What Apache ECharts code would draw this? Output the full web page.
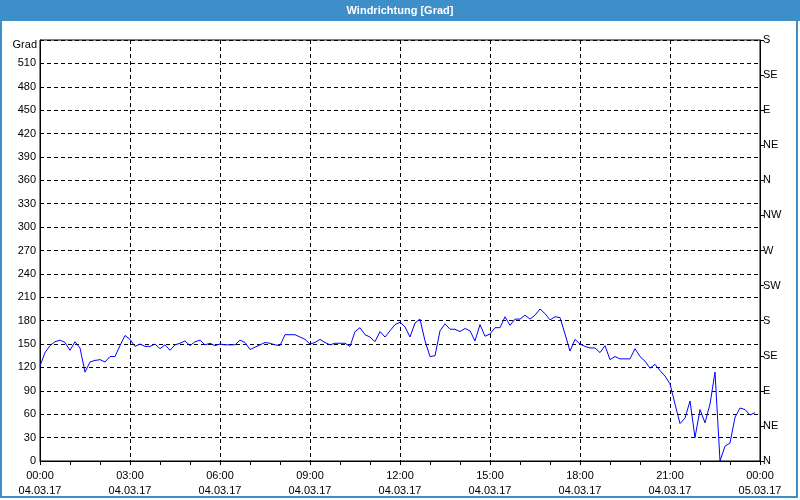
<!DOCTYPE html>
<html>
<head>
<meta charset="utf-8">
<script src="https://cdn.jsdelivr.net/npm/echarts@6/dist/echarts.min.js"></script>
<style>html,body{margin:0;padding:0;background:#fff}#c{width:800px;height:500px}</style>
</head>
<body>
<div id="c"></div>
<script>
// Wind direction in degrees, one reading every 10 minutes from 00:00 to 23:50 on 04.03.17
var windDir = [
  122,139,148,153,155,152,142,153,145,114,127,129,130,127,134,134,148,161,
  156,147,150,147,147,150,144,149,142,149,151,154,148,153,155,149,151,148,
  150,149,149,149,155,152,143,146,149,152,151,149,148,
  162,162,162,159,156,150,152,156,152,149,151,151,151,147,166,171,162,159,
  153,166,159,167,175,178,172,159,177,182,154,134,135,167,176,169,169,166,
  170,167,154,175,160,163,171,171,185,174,182,182,187,
  182,187,195,189,181,185,184,163,141,156,150,147,145,145,139,148,130,134,
  131,131,131,144,134,128,119,124,116,109,99,73,48,55,77,30,66,49,73,114,
  0,19,23,56,68,66,59,62
];
var stepMinutes = 10;
var xTimeLabels = ['00:00','03:00','06:00','09:00','12:00','15:00','18:00','21:00','00:00'];
var xDateLabels = ['04.03.17','04.03.17','04.03.17','04.03.17','04.03.17','04.03.17','04.03.17','04.03.17','05.03.17'];
var dirLabels = ['N','NE','E','SE','S','SW','W','NW','N','NE','E','SE','S'];
var yTop = 540;

var seriesData = windDir.map(function (v, i) { return [i * stepMinutes, v]; });
var FONT = 'Liberation Sans';
var chart = echarts.init(document.getElementById('c'), null, {renderer: 'canvas'});
chart.setOption({
  animation: false,
  backgroundColor: '#ffffff',
  grid: {left: 40, right: 40, top: 40, bottom: 39, show: true, borderColor: '#000', borderWidth: 1, backgroundColor: 'transparent'},
  xAxis: {
    type: 'value', min: 0, max: 1440, interval: 180,
    axisLine: {show: true, lineStyle: {color: '#000', width: 1}},
    axisTick: {show: true, length: 4, lineStyle: {color: '#000'}},
    minorTick: {show: true, splitNumber: 3, length: 4, lineStyle: {color: '#000'}},
    splitLine: {show: true, lineStyle: {color: '#000', type: [4, 3], width: 1}},
    axisLabel: {
      color: '#000', fontFamily: FONT, fontSize: 11, lineHeight: 15, margin: 7,
      formatter: function (v) { var k = Math.round(v / 180); return xTimeLabels[k] + '\n' + xDateLabels[k]; }
    }
  },
  yAxis: [{
    type: 'value', min: 0, max: yTop, interval: 30, position: 'left',
    axisLine: {show: true, lineStyle: {color: '#000', width: 1}},
    axisTick: {show: false},
    splitLine: {show: true, lineStyle: {color: '#000', type: [4, 3], width: 1}},
    axisLabel: {color: '#000', fontFamily: FONT, fontSize: 11, margin: 4,
      formatter: function (v) { return v >= yTop ? '' : String(v); }}
  }, {
    type: 'value', min: 0, max: yTop, interval: 45, position: 'right',
    axisLine: {show: true, lineStyle: {color: '#000', width: 1}},
    axisTick: {show: true, length: 4, lineStyle: {color: '#000'}},
    splitLine: {show: false},
    axisLabel: {color: '#000', fontFamily: FONT, fontSize: 11, margin: 3,
      formatter: function (v) { return dirLabels[Math.round(v / 45)]; }}
  }],
  series: [{
    type: 'line', data: seriesData, yAxisIndex: 0, showSymbol: false,
    lineStyle: {color: '#0000ff', width: 1}, itemStyle: {color: '#0000ff'}
  }],
  graphic: [
    {type: 'rect', shape: {x: 0, y: 0, width: 800, height: 21}, style: {fill: '#3d8ec9'}, z: 10},
    {type: 'text', x: 400, y: 10.5, style: {text: 'Windrichtung [Grad]', fill: '#fff', font: 'bold 11px "Liberation Sans"', textAlign: 'center', textVerticalAlign: 'middle'}, z: 11},
    {type: 'text', x: 37, y: 45, style: {text: 'Grad', fill: '#000', font: '11px "Liberation Sans"', textAlign: 'right', textVerticalAlign: 'middle'}, z: 11},
    {type: 'rect', shape: {x: 1, y: 1, width: 796, height: 496}, style: {fill: 'none', stroke: '#3d8ec9', lineWidth: 2}, z: 9}
  ]
});
</script>
</body>
</html>
